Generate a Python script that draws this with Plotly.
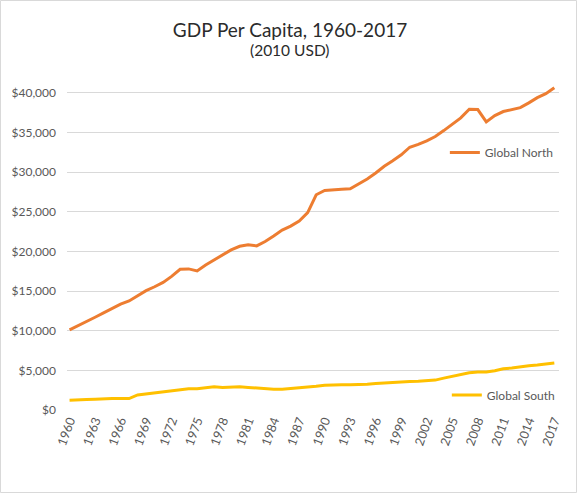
import plotly.graph_objects as go

years = list(range(1960, 2018))

global_north = [
    10100, 10600, 11200, 11700, 12250, 12800, 13350, 13750, 14400, 15050,
    15550, 16100, 16850, 17750, 17800, 17550, 18300, 18900, 19550, 20200,
    20650, 20850, 20700, 21250, 21950, 22700, 23200, 23850, 24900, 27150,
    27700, 27800, 27850, 27900, 28500, 29150, 29900, 30750, 31450, 32200,
    33150, 33500, 33950, 34500, 35250, 36050, 36850, 37950, 37900, 36350,
    37150, 37650, 37900, 38150, 38750, 39400, 39900, 40650,
]

global_south = [
    1230, 1230, 1310, 1350, 1440, 1440, 1440, 1440, 1900, 2030,
    2160, 2330, 2410, 2580, 2670, 2670, 2840, 2920, 2840, 2920,
    2920, 2840, 2750, 2630, 2630, 2630, 2710, 2880, 2960, 2990,
    3130, 3180, 3180, 3180, 3180, 3260, 3350, 3430, 3510, 3550,
    3600, 3640, 3690, 3770, 4020, 4240, 4450, 4700, 4790, 4790,
    4960, 5210, 5300, 5460, 5590, 5680, 5760, 5930,
]

x_tick_years = list(range(1960, 2018, 3))
y_ticks = list(range(0, 40001, 5000))
y_tick_labels = ["$0"] + [f"${v:,}" for v in y_ticks[1:]]

FONT = "Lato"
W, H = 578, 494
ML, MR, MT, MB = 67, 19, 85, 84
PW, PH = W - ML - MR, H - MT - MB
TITLE_CX = 290

fig = go.Figure()
fig.add_trace(go.Scatter(
    x=years, y=global_north, mode="lines", name="Global North",
    line=dict(color="#ED7D31", width=3), legend="legend",
))
fig.add_trace(go.Scatter(
    x=years, y=global_south, mode="lines", name="Global South",
    line=dict(color="#FFC000", width=3), legend="legend2",
))

fig.update_layout(
    width=W, height=H,
    margin=dict(l=ML, r=MR, t=MT, b=MB),
    paper_bgcolor="white", plot_bgcolor="white",
    font=dict(family=FONT, size=12, color="#595959"),
    title=dict(
        text="GDP Per Capita, 1960-2017",
        x=(TITLE_CX - ML) / PW, xref="paper", xanchor="center",
        y=1 - 30 / H, yanchor="middle",
        font=dict(family=FONT, size=19, color="#2b2b2b"),
    ),
    xaxis=dict(
        range=[1959.7, 2017.55], tickmode="array", tickvals=x_tick_years,
        ticktext=[str(y) for y in x_tick_years], tickangle=-70,
        showgrid=False, zeroline=False, showline=False, ticks="",
        tickfont=dict(size=12.5, color="#595959"),
    ),
    yaxis=dict(
        range=[0, 41000], tickmode="array", tickvals=y_ticks, ticktext=y_tick_labels,
        showgrid=True, gridcolor="#D9D9D9", gridwidth=1, zeroline=False,
        showline=False, ticks="", ticklabelstandoff=10,
        tickfont=dict(size=12, color="#595959"),
    ),
    showlegend=True,
    legend=dict(
        x=0.768, y=0.792, xanchor="left", yanchor="middle",
        bgcolor="rgba(0,0,0,0)", font=dict(size=12, color="#595959"),
    ),
    legend2=dict(
        x=0.772, y=0.046, xanchor="left", yanchor="middle",
        bgcolor="rgba(0,0,0,0)", font=dict(size=12, color="#595959"),
    ),
    annotations=[dict(
        text="(2010 USD)", xref="paper", yref="paper",
        x=(TITLE_CX - ML) / PW, xanchor="center",
        y=1 + (MT - 50) / PH, yanchor="middle", showarrow=False,
        font=dict(family=FONT, size=15.5, color="#2b2b2b"),
    )],
    shapes=[dict(
        type="rect", xref="paper", yref="paper",
        x0=-(ML - 0.5) / PW, x1=1 + (MR - 1.5) / PW,
        y0=-(MB - 1.5) / PH, y1=1 + (MT - 0.5) / PH,
        line=dict(color="#D9D9D9", width=1), fillcolor="rgba(0,0,0,0)", layer="below",
    )],
)

fig.write_html(
    "out.html",
    config={"displayModeBar": False},
    post_script="document.body.style.margin='0';document.body.style.overflow='hidden';",
)
